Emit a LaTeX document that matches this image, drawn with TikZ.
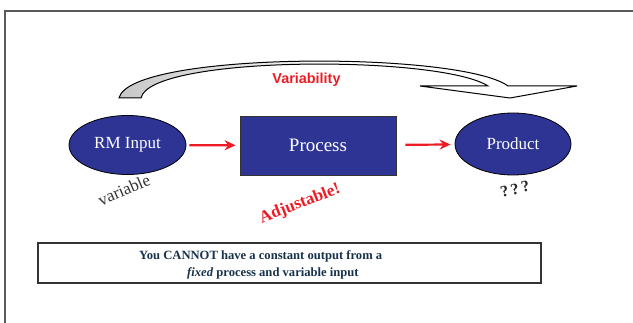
\documentclass[tikz,border=0pt]{standalone}
\usepackage{fontspec}
\setmainfont{Liberation Serif}
\newfontfamily\arialfont{Liberation Sans}
\usetikzlibrary{arrows.meta,shapes.geometric}
\definecolor{navy}{RGB}{46,52,148}
\definecolor{flowred}{RGB}{237,28,36}
\definecolor{notetext}{RGB}{23,50,75}
\begin{document}
\begin{tikzpicture}[x=1pt,y=-1pt,
  blob/.style={ellipse, draw=black, line width=0.8pt, fill=navy, text=white,
    minimum width=117pt, minimum height=59pt, inner sep=0pt},
  procbox/.style={rectangle, draw=black!80, line width=0.8pt, fill=navy, text=white,
    minimum width=156pt, minimum height=59pt, inner sep=0pt},
  flow/.style={draw=flowred, line width=2.2pt, -{Stealth[length=11pt,width=10pt]}},
  notebox/.style={draw=black!80, line width=1.6pt, minimum width=503pt, minimum height=40pt},
  notefont/.style={font=\bfseries\fontsize{12.6}{15}\selectfont, text=notetext, inner sep=0pt}]
\useasboundingbox (0,0) rectangle (633,323);

% page frame
\draw[black!65, line width=1.5pt] (5,330) -- (5,11) -- (640,11);

% curved block arrow over the flow, grey at its tail fading to white
\shade[left color=black!22, right color=white, middle color=white, draw=black, line width=1pt, line join=miter]
  (119,98) .. controls (130,51) and (460,51) .. (508,86)
  -- (577,86) -- (510,98) -- (420,86) -- (488,86)
  .. controls (440,55) and (150,55) .. (141,98) -- cycle;
\node[font=\arialfont\bfseries\fontsize{14.4}{16}\selectfont, text=flowred] (var) at (306.5,80) {Variability};

% main flow
\node[blob, font=\fontsize{17}{20}\selectfont] (rm) at (127.5,145) {RM Input};
\node[procbox, font=\fontsize{19}{22}\selectfont] (proc) at (318,145.5) {Process};
\node[blob, minimum width=116pt, minimum height=62pt, font=\fontsize{17}{20}\selectfont] (prod) at (513,144) {Product};

\draw[flow, shorten <=3pt, shorten >=4pt] (rm) -- (proc);
\draw[flow, shorten <=9pt, shorten >=4pt] (proc) -- (prod);

% annotations
\node[rotate=23, font=\fontsize{17}{19}\selectfont, text=black!80] (varlabel) at (124,190) {variable};
\node[rotate=21, font=\bfseries\fontsize{17}{19}\selectfont, text=flowred] (adj) at (300,204) {Adjustable!};
\node[rotate=15, font=\bfseries\fontsize{16}{18}\selectfont, text=black!85] (qq) at (515,189) {?\,?\,?};

% conclusion box
\node[notebox] (note) at (289.5,263) {};
\node[notefont, anchor=base west] (note1) at (139,260) {You CANNOT have a constant output from a};
\node[notefont, anchor=base west] (note2) at (187,276.7) {\textit{fixed} process and variable input};
\end{tikzpicture}
\end{document}
